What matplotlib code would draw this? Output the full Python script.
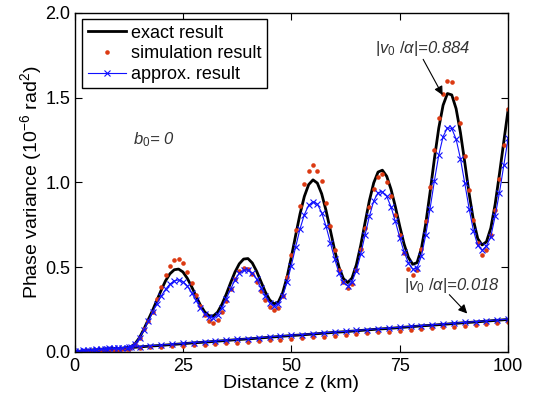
import numpy as np
import matplotlib
matplotlib.use("Agg")
import matplotlib.pyplot as plt

plt.rcParams["font.family"] = ["Liberation Sans", "DejaVu Sans"]
plt.rcParams["mathtext.fontset"] = "custom"
plt.rcParams["mathtext.rm"] = "Liberation Sans"
plt.rcParams["mathtext.it"] = "Liberation Sans:italic"

# distance grids (km)
z_up = np.arange(0, 101)          # 1 km steps, oscillating case
z_low = np.arange(0, 41) * 2.5    # 2.5 km steps, small |v0/alpha| case

# |v0/alpha| = 0.884
exact_up = [
    0.000, 0.004, 0.007, 0.010, 0.012, 0.014, 0.016, 0.018, 0.019, 0.020,
    0.021, 0.022, 0.024, 0.030, 0.050, 0.085, 0.135, 0.190, 0.245, 0.305,
    0.365, 0.420, 0.461, 0.485, 0.489, 0.472, 0.435, 0.386, 0.331, 0.278,
    0.237, 0.214, 0.212, 0.235, 0.281, 0.341, 0.408, 0.471, 0.520, 0.548,
    0.551, 0.525, 0.476, 0.415, 0.354, 0.307, 0.284, 0.294, 0.349, 0.440,
    0.559, 0.688, 0.813, 0.917, 0.987, 1.015, 0.996, 0.933, 0.835, 0.718,
    0.600, 0.500, 0.433, 0.409, 0.436, 0.514, 0.628, 0.762, 0.892, 0.997,
    1.061, 1.072, 1.036, 0.959, 0.856, 0.742, 0.637, 0.558, 0.517, 0.527,
    0.610, 0.756, 0.942, 1.140, 1.320, 1.455, 1.524, 1.516, 1.435, 1.294,
    1.118, 0.935, 0.776, 0.668, 0.631, 0.650, 0.730, 0.870, 1.050, 1.240,
    1.430,
]
sim_up = [
    0.000, 0.002, 0.004, 0.006, 0.008, 0.009, 0.010, 0.011, 0.012, 0.013,
    0.014, 0.016, 0.020, 0.030, 0.050, 0.085, 0.135, 0.185, 0.235, 0.310,
    0.385, 0.455, 0.510, 0.543, 0.550, 0.522, 0.470, 0.405, 0.335, 0.270,
    0.220, 0.185, 0.173, 0.190, 0.235, 0.300, 0.370, 0.430, 0.478, 0.497,
    0.490, 0.460, 0.415, 0.360, 0.305, 0.265, 0.248, 0.262, 0.330, 0.444,
    0.572, 0.720, 0.863, 0.990, 1.070, 1.100, 1.070, 1.010, 0.880, 0.743,
    0.600, 0.484, 0.411, 0.377, 0.400, 0.484, 0.610, 0.730, 0.854, 0.960,
    1.030, 1.048, 1.000, 0.920, 0.810, 0.690, 0.585, 0.490, 0.455, 0.485,
    0.606, 0.770, 0.970, 1.190, 1.380, 1.520, 1.600, 1.590, 1.500, 1.350,
    1.156, 0.956, 0.780, 0.640, 0.572, 0.600, 0.690, 0.840, 1.020, 1.220,
    1.430,
]
approx_up = [
    0.003, 0.006, 0.009, 0.012, 0.014, 0.016, 0.018, 0.020, 0.021, 0.022,
    0.023, 0.024, 0.026, 0.032, 0.050, 0.085, 0.130, 0.180, 0.235, 0.285,
    0.330, 0.370, 0.400, 0.420, 0.425, 0.415, 0.390, 0.350, 0.305, 0.260,
    0.225, 0.205, 0.200, 0.220, 0.260, 0.315, 0.370, 0.425, 0.465, 0.482,
    0.484, 0.465, 0.430, 0.380, 0.330, 0.290, 0.273, 0.283, 0.330, 0.410,
    0.510, 0.620, 0.725, 0.810, 0.865, 0.887, 0.872, 0.822, 0.742, 0.645,
    0.548, 0.465, 0.410, 0.391, 0.415, 0.480, 0.575, 0.690, 0.800, 0.890,
    0.940, 0.945, 0.918, 0.855, 0.770, 0.675, 0.590, 0.525, 0.488, 0.495,
    0.565, 0.690, 0.845, 1.010, 1.160, 1.270, 1.322, 1.318, 1.255, 1.140,
    0.995, 0.845, 0.715, 0.628, 0.600, 0.625, 0.680, 0.800, 0.940, 1.100,
    1.260,
]

# |v0/alpha| = 0.018
exact_low = [
    0.000, 0.006, 0.011, 0.016, 0.020, 0.025, 0.030, 0.035, 0.039, 0.044,
    0.049, 0.054, 0.058, 0.063, 0.068, 0.073, 0.077, 0.082, 0.087, 0.092,
    0.097, 0.101, 0.106, 0.111, 0.116, 0.120, 0.125, 0.130, 0.135, 0.139,
    0.144, 0.149, 0.154, 0.158, 0.163, 0.168, 0.173, 0.177, 0.182, 0.187,
    0.192,
]
sim_low = [
    0.000, 0.005, 0.009, 0.012, 0.015, 0.019, 0.023, 0.027, 0.030, 0.033,
    0.037, 0.041, 0.044, 0.048, 0.052, 0.056, 0.059, 0.063, 0.068, 0.072,
    0.077, 0.081, 0.086, 0.091, 0.096, 0.100, 0.105, 0.110, 0.115, 0.119,
    0.124, 0.129, 0.135, 0.139, 0.145, 0.150, 0.156, 0.160, 0.166, 0.171,
    0.176,
]
approx_low = [
    0.001, 0.007, 0.012, 0.017, 0.022, 0.027, 0.032, 0.037, 0.041, 0.046,
    0.051, 0.056, 0.060, 0.065, 0.070, 0.075, 0.079, 0.084, 0.089, 0.094,
    0.099, 0.103, 0.108, 0.113, 0.118, 0.122, 0.127, 0.132, 0.137, 0.141,
    0.146, 0.151, 0.156, 0.160, 0.165, 0.170, 0.175, 0.179, 0.184, 0.189,
    0.194,
]

red = "#dc3a12"
blue = "#1010ff"

fig = plt.figure(figsize=(5.36, 4.0), dpi=100)
ax = fig.add_axes([0.139, 0.12, 0.809, 0.848])

ax.plot(z_up, exact_up, "-", color="k", lw=2.0, label="exact result")
ax.plot(z_low, exact_low, "-", color="k", lw=2.0)
ax.plot(z_up, sim_up, "o", color=red, ms=3.3, mec="none", label="simulation result")
ax.plot(z_low, sim_low, "o", color=red, ms=3.3, mec="none")
ax.plot(z_up, approx_up, "-x", color=blue, lw=0.8, ms=4, mew=0.8, label="approx. result")
ax.plot(z_low, approx_low, "-x", color=blue, lw=0.8, ms=4, mew=0.8)

ax.set_xlim(0, 100)
ax.set_ylim(0, 2.0)
ax.set_xticks([0, 25, 50, 75, 100])
ax.set_yticks([0.0, 0.5, 1.0, 1.5, 2.0])
ax.set_yticklabels(["0.0", "0.5", "1.0", "1.5", "2.0"])
ax.tick_params(direction="in", top=True, right=True, length=5, width=0.8, labelsize=13)
ax.tick_params(axis="y", pad=3)
ax.tick_params(axis="x", pad=4)
for s in ax.spines.values():
    s.set_linewidth(1.0)

ax.set_xlabel("Distance z (km)", fontsize=14, labelpad=0)
ax.set_ylabel(r"Phase variance (10$^{-6}$ rad$^2$)", fontsize=14, labelpad=1)

# annotations
ax.text(69.4, 1.79, r"$|v_{\mathit{0}}\ /\alpha|$=0.884", fontsize=12, style="italic",
        ha="left", va="center", color="#333333")
ax.annotate("", xy=(85.2, 1.50), xytext=(80.1, 1.74),
            arrowprops=dict(arrowstyle="-|>", color="k", lw=0.8, mutation_scale=13))
ax.text(75.9, 0.395, r"$|v_{\mathit{0}}\ /\alpha|$=0.018", fontsize=12, style="italic",
        ha="left", va="center", color="#333333")
ax.annotate("", xy=(91.0, 0.215), xytext=(86.0, 0.35),
            arrowprops=dict(arrowstyle="-|>", color="k", lw=0.8, mutation_scale=13))
ax.text(13.4, 1.25, r"$b_{\mathit{0}}$= 0", fontsize=12, style="italic",
        ha="left", va="center", color="#333333")

leg = ax.legend(loc="upper left", bbox_to_anchor=(0.018, 0.981), borderaxespad=0,
                fontsize=13, numpoints=1, handlelength=2.1, handletextpad=0.3,
                labelspacing=0.2, borderpad=0.3, fancybox=False, framealpha=1)
leg.get_frame().set_edgecolor("k")
leg.get_frame().set_linewidth(1.0)

fig.savefig("out.png", dpi=100)
